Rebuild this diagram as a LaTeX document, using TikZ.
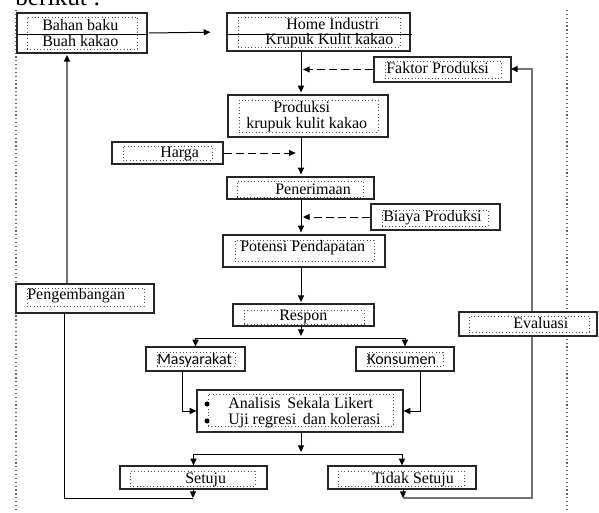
\documentclass[tikz,border=0pt]{standalone}
\usepackage{fontspec}
\setmainfont{Liberation Serif}
\newfontfamily\calib{Carlito}
\usetikzlibrary{arrows.meta,fit}
\begin{document}
\begin{tikzpicture}[x=0.75pt,y=-0.75pt,
  outerbox/.style={draw=black!85,line width=0.9pt,fill=white,inner sep=0pt},
  innerbox/.style={draw=black!70,dotted,line width=0.5pt,inner sep=0pt},
  txt/.style={anchor=base west,inner sep=0pt,font=\fontsize{12}{14}\selectfont},
  stxt/.style={anchor=base west,inner sep=0pt,font=\calib\fontsize{12}{14}\selectfont},
  arr/.style={line width=0.75pt,-{Triangle[length=5pt,width=4.5pt]}},
  plain/.style={line width=0.75pt},
  dasharr/.style={line width=0.75pt,dash pattern=on 6pt off 3pt,-{Triangle[length=5pt,width=4.5pt]}},
  gline/.style={draw=black!55,line width=1.3pt},
  garr/.style={draw=black!55,line width=1.3pt,-{Triangle[length=5pt,width=4.5pt,color=black]}},
  vdot/.style={draw=black!60,dotted,line width=0.9pt}]
\useasboundingbox (0,0) rectangle (599,512);
% page text (cut at top)
\node[anchor=base west,inner sep=0pt,font=\fontsize{19}{20}\selectfont] (berikut) at (15,5) {berikut :};
% dotted page guides
\draw[vdot] (16,10) coordinate (gl1) -- (16,512) coordinate (gl2);
\draw[vdot] (567,10) coordinate (gr1) -- (567,512) coordinate (gr2);
% key x coordinates
\coordinate (main) at (301,0);
\coordinate (mx) at (182,0);
\coordinate (kx) at (420,0);
\coordinate (lx) at (64,0);
\coordinate (ly) at (67,0);
\coordinate (rx) at (532,0);
\coordinate (split) at (0,338);
\coordinate (split2) at (0,454);
\coordinate (bot) at (0,498);
% box builder
\newcommand{\mkbox}[9]{%
  \path (#2,#3) coordinate (#1-nw) (#4,#5) coordinate (#1-se)
        (#6,#7) coordinate (#1-inw) (#8,#9) coordinate (#1-ise);
  \node[outerbox,fit=(#1-nw)(#1-se)] (#1) {};
  \node[innerbox,fit=(#1-inw)(#1-ise)] (#1-in) {};}
% ---------- feedback lines (drawn first, behind boxes)
\draw[garr] (ly |- 0,284) coordinate (pengtop) -- (ly |- 0,55) coordinate (bahanbot);
\draw[garr] (rx |- 0,312) coordinate (evaltop) |- (511,69) coordinate (faktorright);
\draw[gline] (403,498) coordinate (tbot) -| (rx |- 0,336) coordinate (evalbot);
\draw[plain] (193,498) coordinate (sbot) -| (lx |- 0,313) coordinate (pengbot);
% ---------- boxes
\mkbox{bahan}{17}{13}{147}{53}{27}{17}{137}{49}
\mkbox{home}{227}{13}{410}{51}{238}{17}{400}{47}
\mkbox{faktor}{374}{57}{511}{82}{385}{61}{501}{78}
\mkbox{prod}{228}{95}{388}{137}{239}{100}{378}{132}
\mkbox{harga}{112}{142}{223}{164}{123}{146}{212}{160}
\mkbox{pener}{227}{177}{374}{199}{237}{181}{363}{197}
\mkbox{biaya}{371}{204}{500}{230}{382}{210}{488}{226}
\mkbox{potensi}{223}{235}{385}{267}{235}{240}{374}{261}
\mkbox{peng}{16}{284}{154}{313}{27}{288}{144}{306}
\mkbox{respon}{233}{304}{374}{326}{244}{310}{364}{324}
\mkbox{eval}{459}{312}{597}{336}{469}{316}{589}{332}
\mkbox{masy}{146}{347}{245}{371}{157}{352}{235}{366}
\mkbox{kons}{356}{347}{454}{371}{367}{352}{443}{366}
\mkbox{anal}{197}{390}{403}{432}{208}{394}{393}{426}
\mkbox{setuju}{120}{466}{267}{489}{130}{471}{255}{486}
\mkbox{tidak}{328}{466}{476}{489}{338}{471}{464}{486}
% row lines through the top boxes
\draw[line width=0.7pt] (bahan.west |- 0,34) -- (bahan.east |- 0,34);
\draw[line width=0.7pt] (home.west |- 0,34) -- ([xshift=0.75pt]home.east |- 0,34);
% ---------- texts
\node[txt] (t-bahan1) at (42,30.5) {Bahan baku};
\node[txt] (t-bahan2) at (42,46) {Buah kakao};
\node[txt] (t-home1) at (286,29.5) {Home Industri};
\node[txt] (t-home2) at (265,44) {Krupuk Kulit kakao};
\node[txt] (t-faktor) at (386,73.5) {Faktor Produksi};
\node[txt] (t-prod1) at (273,112) {Produksi};
\node[txt] (t-prod2) at (246,128) {krupuk kulit kakao};
\node[txt] (t-harga) at (160,157.5) {Harga};
\node[txt] (t-pener) at (275,194) {Penerimaan};
\node[txt] (t-biaya) at (383,221.5) {Biaya Produksi};
\node[txt] (t-potensi) at (240,251.5) {Potensi Pendapatan};
\node[txt] (t-peng) at (27,299) {Pengembangan};
\node[txt] (t-respon) at (279,320) {Respon};
\node[txt] (t-eval) at (513,328) {Evaluasi};
\node[stxt] (t-masy) at (157,364) {Masyarakat};
\node[stxt] (t-kons) at (367,364) {Konsumen};
\node[txt] (t-anal1) at (228,408) {Analisis\, Sekala Likert};
\node[txt] (t-anal2) at (228,424) {Uji regresi\, dan kolerasi};
\fill (207,404) circle (1.9pt) coordinate (b1);
\fill (207,421) circle (1.9pt) coordinate (b2);
\node[txt] (t-setuju) at (185,483) {Setuju};
\node[txt] (t-tidak) at (372,483) {Tidak Setuju};
% ---------- main flow
\draw[arr,shorten <=1pt,shorten >=12pt] (bahan.east) -- (home.west);
\draw[arr,shorten >=1.5pt] (main |- home.south) -- (main |- prod.north);
\draw[arr,shorten >=1.5pt] (main |- prod.south) -- (main |- pener.north);
\draw[arr,shorten >=1.5pt] (main |- pener.south) -- (main |- potensi.north);
\draw[arr,shorten >=1pt] (main |- potensi.south) -- (main |- respon.north);
\draw[dasharr,shorten >=1.5pt] (faktor.west) -- (main |- faktor.west);
\draw[dasharr,shorten >=4pt] (harga.east) -- (main |- harga.east);
\draw[dasharr,shorten >=1.5pt] (biaya.west) -- (main |- biaya.west);
% split after Respon
\draw[arr,shorten >=1.5pt] (main |- respon.south) -- (main |- split);
\draw[plain] (masy.north |- split) -- (kons.north |- split);
\draw[arr] (masy.north |- split) -- (masy.north);
\draw[arr] (kons.north |- split) -- (kons.north);
% into analysis
\draw[arr] (mx |- masy.south) |- (anal.west);
\draw[arr] (kx |- kons.south) |- (anal.east);
% split after analysis
\draw[arr,shorten >=1.5pt] (main |- anal.south) -- (main |- split2);
\draw[plain] (setuju.north |- split2) -- (tidak.north |- split2);
\draw[arr] (setuju.north |- split2) -- (setuju.north);
\draw[arr] (tidak.north |- split2) -- (tidak.north);
% outcomes down to loop lines
\draw[arr] (setuju.south -| sbot) -- (sbot);
\draw[arr] (tidak.south -| tbot) -- (tbot);
\end{tikzpicture}
\end{document}
